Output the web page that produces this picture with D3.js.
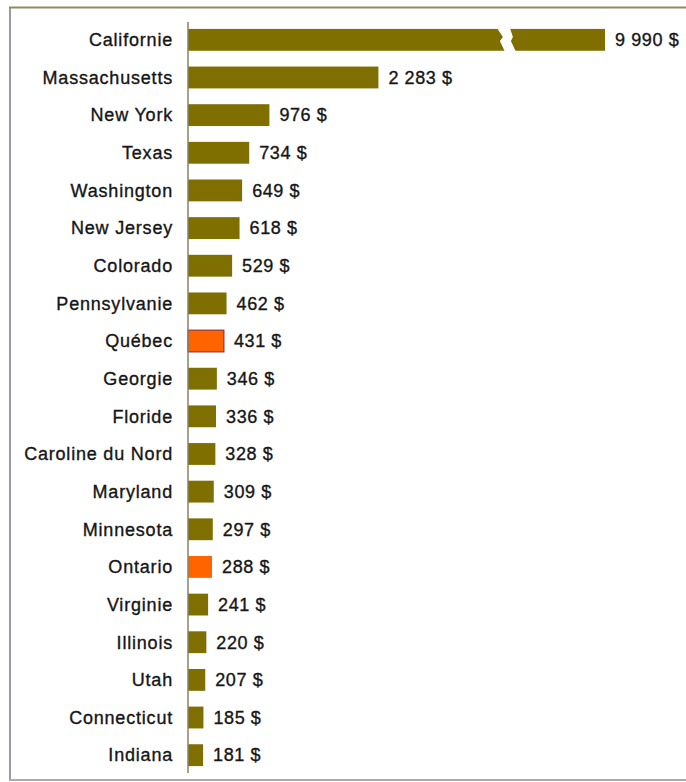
<!DOCTYPE html>
<html><head><meta charset="utf-8">
<script src="https://cdn.jsdelivr.net/npm/d3@7"></script>
<style>
html,body{margin:0;padding:0;background:#fff;}
svg{display:block;}
text{font-family:"Liberation Sans",Arial,Helvetica,sans-serif;}
</style></head>
<body>
<svg id="chart" width="686" height="782"></svg>
<script>
const categories = ["Californie","Massachusetts","New York","Texas","Washington","New Jersey","Colorado","Pennsylvanie","Québec","Georgie","Floride","Caroline du Nord","Maryland","Minnesota","Ontario","Virginie","Illinois","Utah","Connecticut","Indiana"];
const values = [9990,2283,976,734,649,618,529,462,431,346,336,328,309,297,288,241,220,207,185,181];
const valueLabels = ["9 990 $","2 283 $","976 $","734 $","649 $","618 $","529 $","462 $","431 $","346 $","336 $","328 $","309 $","297 $","288 $","241 $","220 $","207 $","185 $","181 $"];
const highlighted = ["Québec","Ontario"];
// axis is broken: values above the cap are drawn at the cap with a break mark
const axisCap = 5000;
const breakValue = 3740;

const svg = d3.select("#chart");
const W = 686, H = 782;

// frame
svg.append("line").attr("x1",10).attr("x2",10).attr("y1",7).attr("y2",780)
  .attr("stroke","#9a9aa6").attr("stroke-width",2);
svg.append("line").attr("x1",9).attr("x2",W).attr("y1",7.5).attr("y2",7.5)
  .attr("stroke","#918a5e").attr("stroke-width",2);
svg.append("line").attr("x1",9).attr("x2",W).attr("y1",780).attr("y2",780)
  .attr("stroke","#ababab").attr("stroke-width",2);

const x = d3.scaleLinear().domain([0, axisCap]).range([188, 605]);
const y = d3.scaleBand().domain(categories).range([21, 774]).paddingInner(0.42).paddingOuter(0.21);

const data = categories.map((c,i)=>({cat:c, v:values[i], label:valueLabels[i], hl: highlighted.includes(c)}));

// bars
svg.append("g").selectAll("rect").data(data).join("rect")
  .attr("x", x(0))
  .attr("y", d=>y(d.cat))
  .attr("width", d=>x(Math.min(d.v, axisCap)) - x(0))
  .attr("height", y.bandwidth())
  .attr("fill", d=>d.hl ? "#ff6400" : "#7f6e00")
  .attr("stroke", d=>d.cat==="Québec" ? "#7a2a3a" : "none")
  .attr("stroke-width", 1);

// break mark on capped bars
const capped = data.filter(d=>d.v > axisCap);
svg.append("g").selectAll("path").data(capped).join("path")
  .attr("d", d=>{
    const xb = x(breakValue), t = y(d.cat)-1, b = y(d.cat)+y.bandwidth()+1;
    const h = b - t;
    return `M${xb-3},${t} L${xb+10},${t} L${xb+13},${t+h*0.38} L${xb+11},${t+h*0.55} L${xb+16},${b} L${xb+5},${b} L${xb},${t+h*0.55} L${xb+3},${t+h*0.38} Z`;
  })
  .attr("fill","#fff");

// axis line
const yAxis = d3.axisLeft(y).tickSize(0).tickPadding(15);
const ag = svg.append("g").attr("transform",`translate(${x(0)},0)`).call(yAxis);
ag.select(".domain").attr("stroke","#8a8262").attr("stroke-width",1.5)
  .attr("d", `M0,22V773`);
ag.selectAll(".tick text")
  .attr("font-family",'"Liberation Sans",Arial,Helvetica,sans-serif')
  .attr("font-size","18px")
  .attr("letter-spacing","0.8px")
  .attr("fill","#161616")
  .attr("stroke","#161616").attr("stroke-width",0.35)
  .attr("dy","0.35em");

// value labels
svg.append("g").selectAll("text").data(data).join("text")
  .attr("x", d=>x(Math.min(d.v, axisCap)) + 10)
  .attr("y", d=>y(d.cat) + y.bandwidth()/2)
  .attr("dy","0.35em")
  .attr("font-size","18px")
  .attr("letter-spacing","0.6px")
  .attr("fill","#161616")
  .attr("stroke","#161616").attr("stroke-width",0.35)
  .text(d=>d.label);
</script>
</body></html>
